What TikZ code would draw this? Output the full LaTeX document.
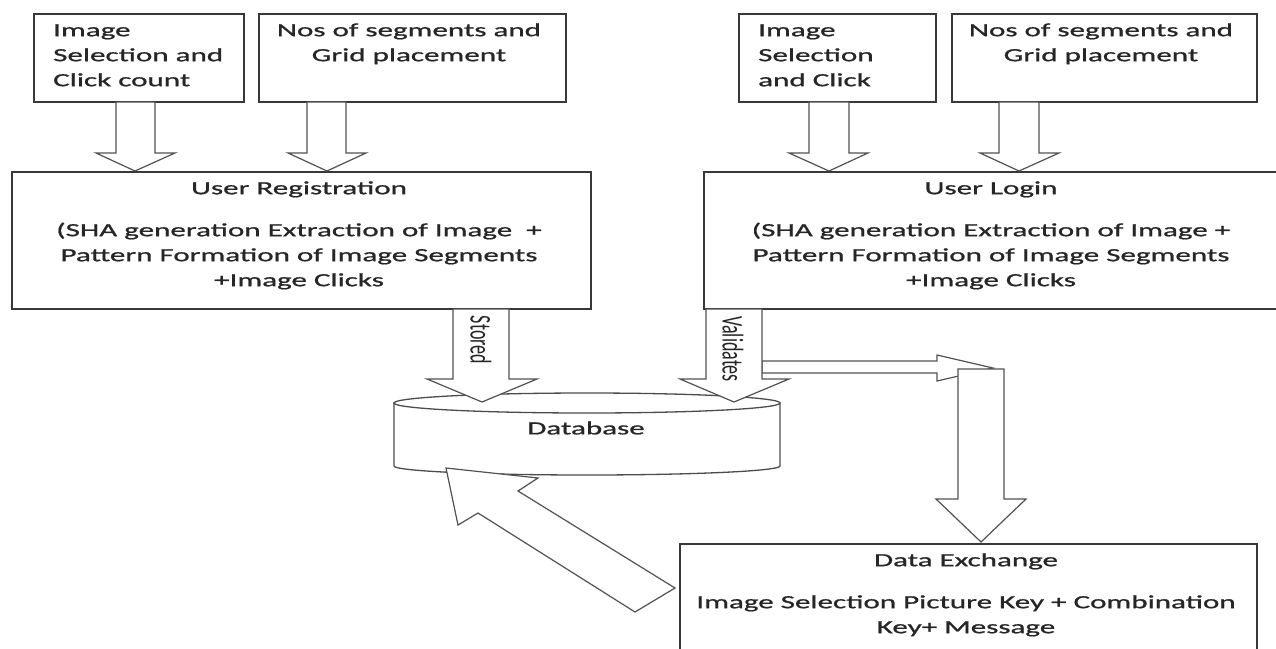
\documentclass[tikz,border=0pt]{standalone}
\usepackage{fontspec}
\setmainfont{Carlito}
\newfontfamily\widefont{Carlito}[FakeStretch=1.67,FakeBold=0.9]
\newfontfamily\plainfont{Carlito}
\usepackage{graphicx}
\newcommand{\lnx}{\strut}
\begin{document}
\begin{tikzpicture}[x=1pt,y=-1pt,
  box/.style={draw=black!78, line width=1.6pt, fill=none, inner sep=0pt, anchor=north west},
  txt/.style={font=\widefont\fontsize{18.6}{25}\selectfont, text=black!85, inner sep=0pt},
  rtxt/.style={font=\plainfont\fontsize{18}{20}\selectfont, text=black!85, inner sep=0pt, rotate=-90},
  blockarrow/.style={draw=black!68, line width=1.2pt, fill=white, line join=miter},
  dbline/.style={draw=black!70, line width=1.3pt, fill=white}]
\useasboundingbox (0,0) rectangle (1276,648);
\fill[white] (0,0) rectangle (1276,648);

% boxes
\node[box, minimum width=210pt, minimum height=88pt] (b1) at (33,13) {};
\node[box, minimum width=307pt, minimum height=88pt] (b2) at (258,13) {};
\node[box, minimum width=197pt, minimum height=88pt] (b3) at (738,13) {};
\node[box, minimum width=305pt, minimum height=88pt] (b4) at (951,13) {};
\node[box, minimum width=579pt, minimum height=137pt] (ur) at (11,171) {};
\node[box, minimum width=590pt, minimum height=137pt] (ul) at (703,171) {};
\node[box, minimum width=577pt, minimum height=130pt] (de) at (679,543) {};

% box texts
\node[txt, anchor=north west, align=left] (t1) at (53,18.5) {\lnx Image\\\lnx Selection and\\\lnx Click count};
\node[txt, anchor=north, align=center] (t2) at (409,18.5) {\lnx Nos of segments and\\\lnx Grid placement};
\node[txt, anchor=north west, align=left] (t3) at (758,18.5) {\lnx Image\\\lnx Selection\\\lnx and Click};
\node[txt, anchor=north, align=center] (t4) at (1101,18.5) {\lnx Nos of segments and\\\lnx Grid placement};
\node[txt, anchor=north] (urt) at (299,176.5) {\lnx User Registration};
\node[txt, anchor=north, align=center] (urb) at (299,218.5) {\lnx (SHA generation Extraction of Image\ \ +\\\lnx Pattern Formation of Image Segments\\\lnx +Image Clicks};
\node[txt, anchor=north] (ult) at (991,176.5) {\lnx User Login};
\node[txt, anchor=north, align=center] (ulb) at (991,218.5) {\lnx (SHA generation Extraction of Image +\\\lnx Pattern Formation of Image Segments\\\lnx +Image Clicks};
\node[txt, anchor=north] (det) at (966,548.5) {\lnx Data Exchange};
\node[txt, anchor=north, align=center] (deb) at (966,590.5) {\lnx Image Selection Picture Key + Combination\\\lnx Key+ Message};

% top arrows
\draw[blockarrow] (116,102) -- (155,102) -- (155,153) -- (175,153) -- (135,171) -- (96,153) -- (116,153) -- cycle;
\draw[blockarrow] (307,102) -- (346,102) -- (346,153) -- (366,153) -- (327,171) -- (288,153) -- (307,153) -- cycle;
\draw[blockarrow] (809,102) -- (849,102) -- (849,153) -- (868,153) -- (829,171) -- (789,153) -- (809,153) -- cycle;
\draw[blockarrow] (999,102) -- (1039,102) -- (1039,153) -- (1059,153) -- (1019,171) -- (980,153) -- (999,153) -- cycle;

% database
\path[dbline] (394,403) -- (394,466) arc[start angle=180, end angle=0, x radius=193, y radius=9] -- (780,403) -- cycle;
\draw[dbline] (587,403) ellipse [x radius=193, y radius=10];
\node[txt] (db) at (586,428) {Database};

% horizontal arrow to the right
\draw[blockarrow] (762,361) -- (937,361) -- (937,355) -- (993,368) -- (937,381) -- (937,373) -- (762,373) -- cycle;

% stored / validates arrows
\draw[blockarrow] (453,309) -- (509,309) -- (509,379) -- (537,379) -- (482,402) -- (427,379) -- (453,379) -- cycle;
\draw[blockarrow] (706,309) -- (762,309) -- (762,379) -- (789,379) -- (734,402) -- (680,379) -- (706,379) -- cycle;
\node[rtxt] (st) at (481,340) {\scalebox{1}[1.67]{Stored}};
\node[rtxt] (va) at (733,349) {\scalebox{1}[1.67]{Validates}};

% down arrow to data exchange
\draw[blockarrow] (958,369) -- (1004,369) -- (1004,499) -- (1026,499) -- (981,542) -- (936,499) -- (958,499) -- cycle;

% diagonal arrow back to database
\draw[blockarrow] (446,468) -- (538,478) -- (518,491) -- (675,588) -- (635,612) -- (478,513) -- (458,525) -- cycle;
\end{tikzpicture}
\end{document}
